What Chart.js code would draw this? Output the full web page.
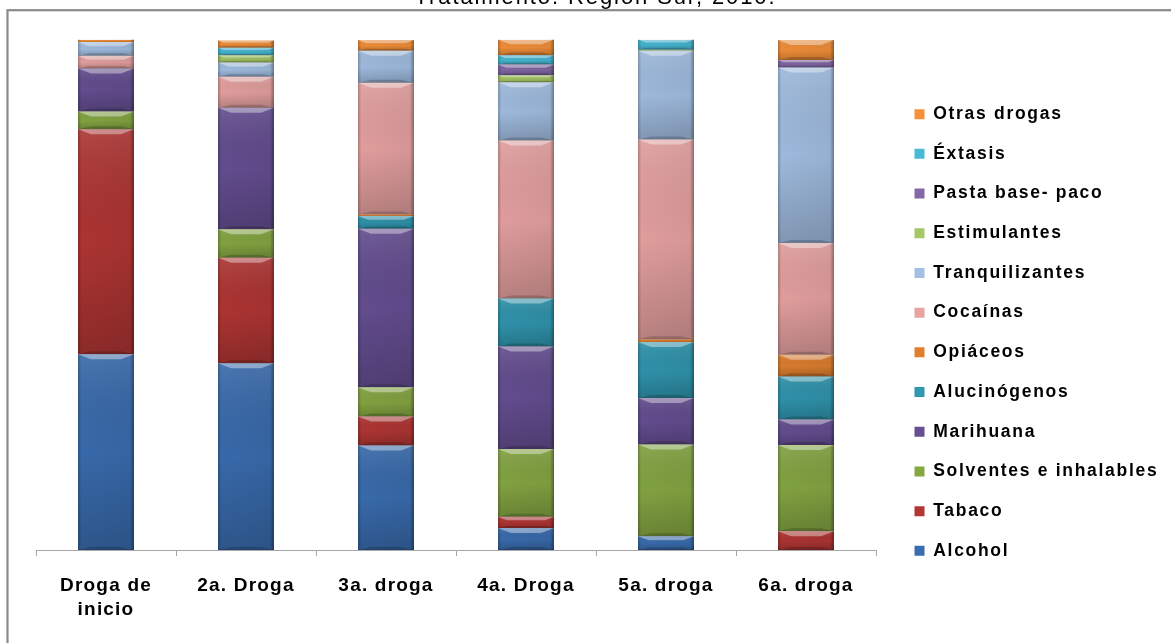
<!DOCTYPE html>
<html>
<head>
<meta charset="utf-8">
<script src="https://cdn.jsdelivr.net/npm/chart.js@4"></script>
<style>
  html, body { margin: 0; padding: 0; background: #fff; }
  #c { display: block; }
</style>
</head>
<body>
<canvas id="c" width="1171" height="643"></canvas>
<script>
// Categories: order in which each drug was used
const categories = [['Droga de', 'inicio'], '2a. Droga', '3a. droga', '4a. Droga', '5a. droga', '6a. droga'];

// Share (%) of each drug within every category, stacked bottom to top
const alcohol         = [38.4, 36.6, 20.5,  4.3,  2.7,  0.0];
const tabaco          = [44.1, 20.7,  5.7,  2.2,  0.0,  3.7];
const solventes       = [ 3.5,  5.6,  5.7, 13.3, 18.0, 16.9];
const marihuana       = [ 8.4, 23.8, 31.1, 20.1,  9.1,  5.0];
const alucinogenos    = [ 0.0,  0.0,  2.5,  9.4, 11.0,  8.4];
const opiaceos        = [ 0.0,  0.0,  0.3,  0.0,  0.5,  4.3];
const cocainas        = [ 2.5,  6.1, 25.8, 31.0, 39.2, 21.9];
const tranquilizantes = [ 2.7,  2.8,  6.3, 11.4, 17.4, 34.4];
const estimulantes    = [ 0.0,  1.4,  0.0,  1.4,  0.2,  0.0];
const pastaBase       = [ 0.0,  0.0,  0.0,  2.1,  0.0,  1.5];
const extasis         = [ 0.0,  1.5,  0.0,  1.8,  2.0,  0.0];
const otrasDrogas     = [ 0.5,  1.4,  2.1,  3.1,  0.0,  3.9];

const seriesNames = ['Alcohol', 'Tabaco', 'Solventes e inhalables', 'Marihuana', 'Alucinógenos',
  'Opiáceos', 'Cocaínas', 'Tranquilizantes', 'Estimulantes', 'Pasta base- paco', 'Éxtasis', 'Otras drogas'];
const seriesValues = [alcohol, tabaco, solventes, marihuana, alucinogenos, opiaceos,
  cocainas, tranquilizantes, estimulantes, pastaBase, extasis, otrasDrogas];
const seriesColors = ['#3A6DB0', '#B23634', '#86A843', '#664F93', '#3097B0', '#E0802F',
  '#E8A3A2', '#A3C0E4', '#A6C765', '#8468A8', '#48BAD6', '#F5913A'];

const titleText = 'Tratamiento. Región Sur, 2010.';
const FONT = "'Liberation Sans', Arial, Helvetica, sans-serif";
const LEGEND_WIDTH = 278.7;
const LEGEND_TOP = 22;

// White page with the grey frame around the chart
const framePlugin = {
  id: 'frame',
  beforeDraw(chart) {
    const ctx = chart.ctx;
    ctx.save();
    ctx.fillStyle = '#ffffff';
    ctx.fillRect(0, 0, chart.width, chart.height);
    ctx.strokeStyle = '#8a8a8a';
    ctx.lineWidth = 2.2;
    ctx.strokeRect(7.5, 10.2, chart.width + 40, chart.height + 40);
    ctx.restore();
  }
};

// Fixed legend box and per-block letter spacing for the text
function spaced(obj, method, spacing) {
  const flag = '__spaced_' + method;
  if (!obj || obj[flag]) return;
  const fn = obj[method];
  obj[method] = function (...args) {
    const c = this.ctx;
    const prev = c.letterSpacing;
    c.letterSpacing = spacing;
    try { return fn.apply(this, args); } finally { c.letterSpacing = prev; }
  };
  obj[flag] = true;
}
const textPlugin = {
  id: 'textTweaks',
  beforeLayout(chart) {
    const lg = chart.legend;
    if (lg && !lg.__fixed) {
      const fit = lg.fit;
      lg.fit = function () {
        fit.call(this);
        if (!this.isHorizontal()) this.width = LEGEND_WIDTH;
      };
      lg.__fixed = true;
    }
  },
  afterLayout(chart) {
    if (chart.legend) chart.legend.top = LEGEND_TOP;
  },
  beforeDraw(chart) {
    spaced(chart.legend, 'draw', '1.7px');
    spaced(chart.titleBlock, 'draw', '1.9px');
    spaced(chart.scales.x, 'drawLabels', '1.2px');
  }
};

// Bevel shading on every bar segment, using the positions computed by the bar elements
const bevelPlugin = {
  id: 'bevel',
  afterDatasetsDraw(chart) {
    const ctx = chart.ctx;
    ctx.save();
    chart.data.datasets.forEach((ds, i) => {
      const meta = chart.getDatasetMeta(i);
      if (meta.hidden) return;
      meta.data.forEach(el => {
        const p = el.getProps(['x', 'y', 'base', 'width'], true);
        const top = Math.min(p.y, p.base), bot = Math.max(p.y, p.base);
        const h = bot - top;
        if (h < 0.5) return;
        const x0 = p.x - p.width / 2, x1 = p.x + p.width / 2, w = p.width;

        const g = ctx.createLinearGradient(0, top, 0, bot);
        g.addColorStop(0, 'rgba(255,255,255,0.10)');
        g.addColorStop(0.5, 'rgba(0,0,0,0)');
        g.addColorStop(1, 'rgba(0,0,0,0.18)');
        ctx.fillStyle = g;
        ctx.fillRect(x0, top, w, h);

        const eg = ctx.createLinearGradient(x0, 0, x1, 0);
        eg.addColorStop(0, 'rgba(0,0,0,0.25)');
        eg.addColorStop(0.06, 'rgba(0,0,0,0.04)');
        eg.addColorStop(0.93, 'rgba(0,0,0,0.08)');
        eg.addColorStop(1, 'rgba(0,0,0,0.38)');
        ctx.fillStyle = eg;
        ctx.fillRect(x0, top, w, h);

        if (h < 3) return;
        const b = Math.min(5, h * 0.3);
        const inset = Math.min(14, b * 2.6);
        ctx.fillStyle = 'rgba(255,255,255,0.38)';
        ctx.beginPath();
        ctx.moveTo(x0, top); ctx.lineTo(x1, top);
        ctx.lineTo(x1 - inset, top + b); ctx.lineTo(x0 + inset, top + b);
        ctx.closePath(); ctx.fill();

        ctx.fillStyle = 'rgba(0,0,0,0.18)';
        ctx.beginPath();
        ctx.moveTo(x0, bot); ctx.lineTo(x1, bot);
        ctx.lineTo(x1 - inset, bot - b * 0.6); ctx.lineTo(x0 + inset, bot - b * 0.6);
        ctx.closePath(); ctx.fill();
      });
    });
    ctx.restore();
  }
};

const datasets = seriesNames.map((name, i) => ({
  label: name,
  data: seriesValues[i],
  backgroundColor: seriesColors[i],
  borderWidth: 0,
  barPercentage: 0.4,
  categoryPercentage: 1.0
}));

new Chart(document.getElementById('c'), {
  type: 'bar',
  data: { labels: categories, datasets },
  plugins: [framePlugin, textPlugin, bevelPlugin],
  options: {
    responsive: false,
    animation: false,
    layout: { padding: { left: 20, right: 0, top: 0, bottom: 0 } },
    plugins: {
      title: {
        display: true,
        text: titleText,
        color: '#000',
        font: { family: FONT, size: 22, weight: 'normal', lineHeight: 1.2 },
        padding: { top: -15, bottom: 8.6 }
      },
      legend: {
        position: 'right',
        align: 'center',
        reverse: true,
        labels: {
          boxWidth: 10,
          boxHeight: 10,
          padding: 22.2,
          color: '#000',
          font: { family: FONT, size: 17.5, weight: 'bold' }
        }
      },
      tooltip: { enabled: false }
    },
    scales: {
      x: {
        stacked: true,
        offset: true,
        grid: { offset: true, drawOnChartArea: false, drawTicks: true, tickLength: 6, color: '#a6a6a6' },
        border: { display: true, color: '#a6a6a6', width: 1 },
        ticks: {
          color: '#000',
          font: { family: FONT, size: 19, weight: 'bold', lineHeight: 1.26 },
          padding: 18,
          autoSkip: false,
          minRotation: 0,
          maxRotation: 0
        },
        afterFit(s) { s.height = 93; }
      },
      y: {
        stacked: true,
        min: 0,
        max: 100,
        grid: { display: false },
        border: { display: false },
        ticks: { display: false },
        afterFit(s) { s.width = 16; }
      },
      xTop: {
        type: 'category',
        axis: 'x',
        position: 'top',
        grid: { display: false },
        border: { display: false },
        ticks: { display: false },
        afterFit(s) { s.height = 20; }
      },
      yRight: {
        type: 'linear',
        axis: 'y',
        position: 'right',
        grid: { display: false },
        border: { display: false },
        ticks: { display: false },
        afterFit(s) { s.width = 16.3; }
      }
    }
  }
});
</script>
</body>
</html>
